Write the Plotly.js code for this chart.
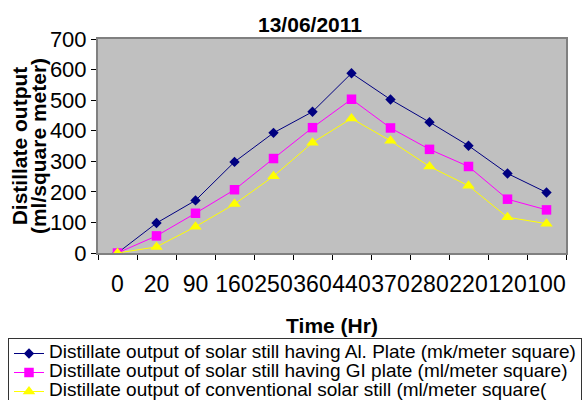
<!DOCTYPE html>
<html>
<head>
<meta charset="utf-8">
<script src="https://cdn.plot.ly/plotly-3.0.1.min.js"></script>
<style>html,body{margin:0;padding:0;background:#fff;}#chart{width:587px;height:400px;}</style>
</head>
<body>
<div id="chart"></div>
<script>
var timeLabels = ["0","20","90","160","250","360","440","370","280","220","120","100"];
var alPlate = [0, 98, 172, 298, 393, 462, 588, 502, 428, 351, 260, 198];
var giPlate = [0, 56, 130, 207, 309, 410, 503, 409, 339, 283, 176, 141];
var conventional = [0, 20, 86, 160, 251, 361, 440, 367, 283, 220, 117, 96];

var seriesNames = [
  "Distillate output of solar still having Al. Plate (mk/meter square)",
  "Distillate output of solar still having GI plate (ml/meter square)",
  "Distillate output of conventional solar still (ml/meter square("
];

var font = "Liberation Sans, Arial, sans-serif";
function big(t, px) { return "<span style='font-size:" + px + "px'>" + t + "</span>"; }

var traces = [
  {x: timeLabels, y: alPlate, name: big(seriesNames[0], 19), type: "scatter", mode: "lines+markers",
   line: {color: "#000080", width: 1}, marker: {symbol: "diamond", size: 8, color: "#000080"}},
  {x: timeLabels, y: giPlate, name: big(seriesNames[1], 19), type: "scatter", mode: "lines+markers",
   line: {color: "#FF00FF", width: 1}, marker: {symbol: "square", size: 9.5, color: "#FF00FF"}},
  {x: timeLabels, y: conventional, name: big(seriesNames[2], 19), type: "scatter", mode: "lines+markers",
   line: {color: "#FFFF00", width: 1}, marker: {symbol: "triangle-up", size: 11, color: "#FFFF00"}}
];

var layout = {
  width: 587, height: 400,
  margin: {l: 98, r: 21, t: 39, b: 147, autoexpand: false},
  paper_bgcolor: "#ffffff",
  plot_bgcolor: "#C0C0C0",
  font: {family: font, color: "#000"},
  showlegend: true,
  title: {text: "<b>13/06/2011</b>", font: {size: 21, family: font, color: "#000"},
          x: 310/587, xref: "container", xanchor: "center", y: 1 - 25/400, yref: "container", yanchor: "middle"},
  xaxis: {
    type: "category", automargin: false, range: [-0.5, 11.5],
    title: {text: "<b>Time (Hr)</b>", font: {size: 21, family: font}, standoff: 23},
    tickfont: {size: 23, family: font}, tickangle: 0,
    ticks: "outside", ticklen: 5, tickcolor: "#000", tickson: "boundaries",
    showline: true, linecolor: "#808080", linewidth: 2, mirror: true,
    showgrid: false, zeroline: false, ticklabelstandoff: 9
  },
  yaxis: {
    range: [0, 700], dtick: 100, automargin: false,
    title: {text: big("<b>Distillate output</b>", 21) + "<br>" + big("<b>(ml/square meter)</b>", 21),
            font: {size: 14.5, family: font}, standoff: 0},
    tickfont: {size: 22, family: font},
    ticks: "outside", ticklen: 5, tickcolor: "#000",
    showline: true, linecolor: "#808080", linewidth: 2, mirror: true,
    showgrid: false, zeroline: false
  },
  legend: {
    x: (8 - 98) / 468, xanchor: "left",
    y: (253 - 338) / 214, yanchor: "top",
    bordercolor: "#333", borderwidth: 1, bgcolor: "#fff",
    font: {size: 12.3, family: font}, tracegroupgap: 0,
    itemwidth: 30
  }
};

Plotly.newPlot("chart", traces, layout, {displayModeBar: false, staticPlot: true});
</script>
</body>
</html>
